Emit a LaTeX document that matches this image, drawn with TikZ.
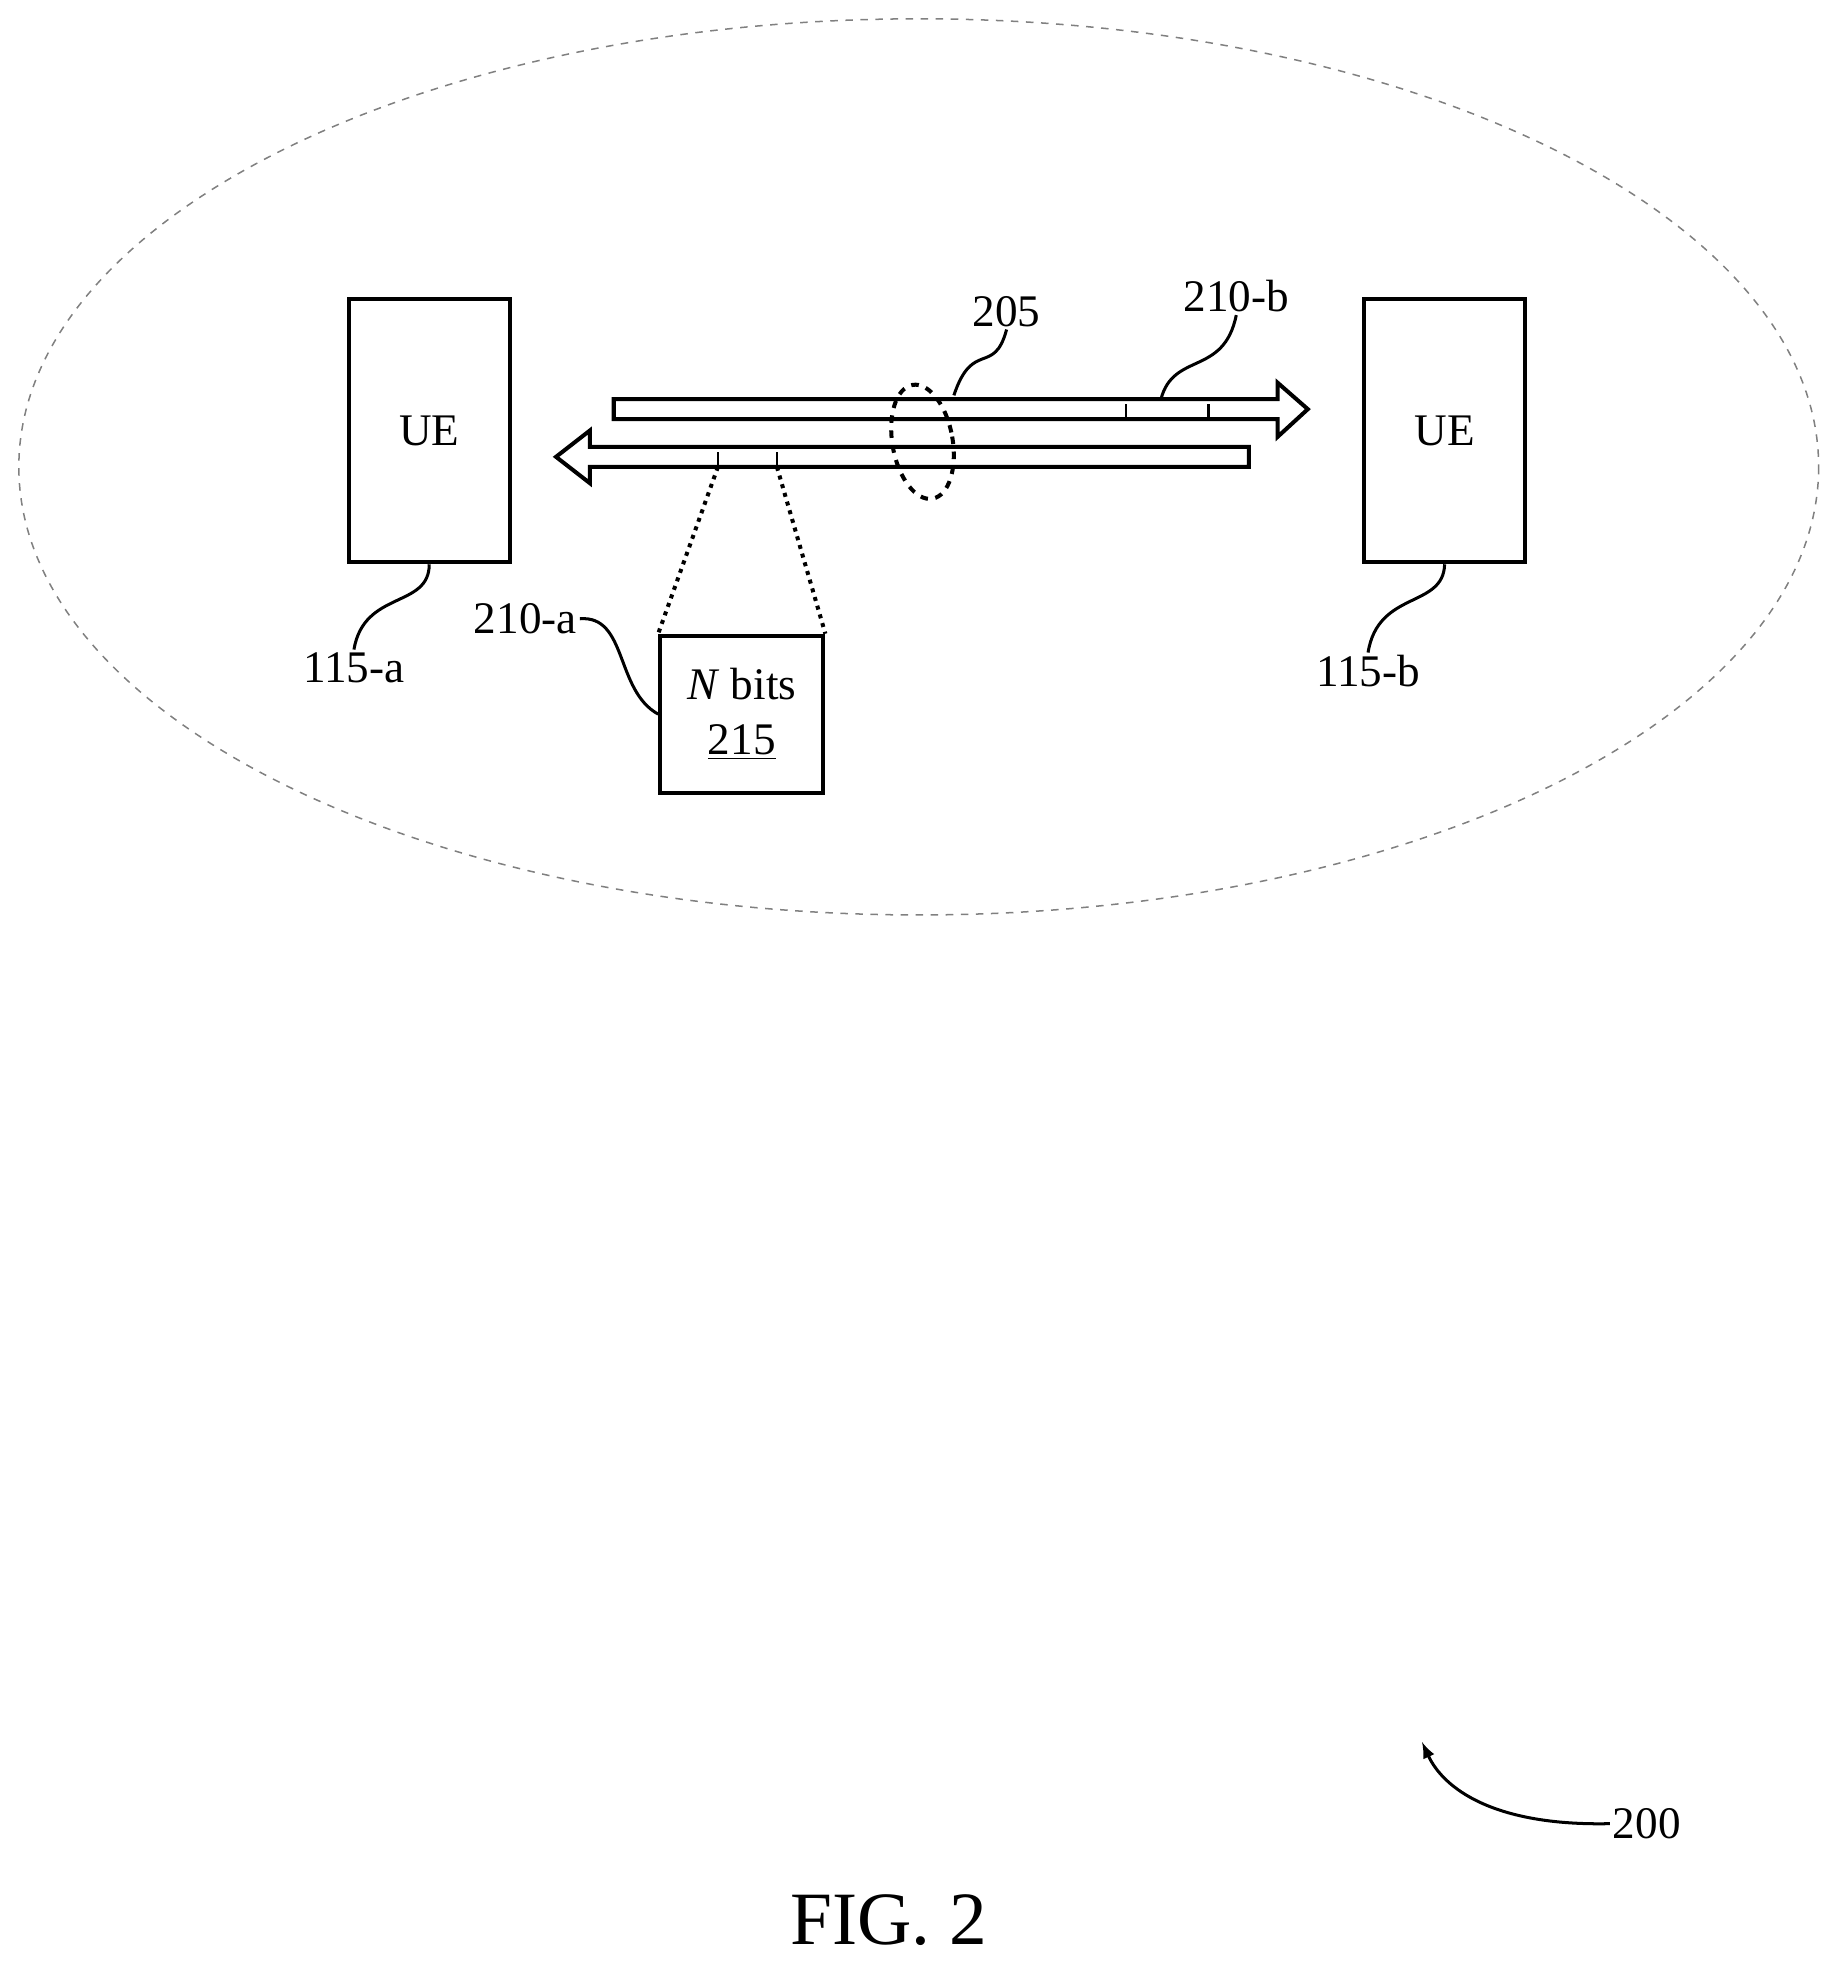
\documentclass[tikz,border=0pt]{standalone}
\usepackage{fontspec}
\setmainfont{Liberation Serif}
\usetikzlibrary{positioning,calc}
\begin{document}
\begin{tikzpicture}[x=0.5pt,y=-0.5pt,
	ue/.style={draw,line width=1.6pt,minimum width=64pt,minimum height=105pt,inner sep=0pt,font=\fontsize{18}{20}\selectfont},
	lbl/.style={inner sep=1pt,font=\fontsize{18}{20}\selectfont},
	lead/.style={line width=1.2pt}]
	\useasboundingbox (0,0) rectangle (1470,1572);
	% coverage area
	\draw[gray,dashed,line width=0.6pt] (732,372) ellipse [x radius=717,y radius=357];
	% devices
	\node[ue] (UEA) at (342,343) {UE};
	\node[ue] (UEB) at (1151,343) {UE};
	% links
	\draw[line width=1.6pt,fill=white] (489,318) -- (1018,318) -- (1018,305) -- (1042,326)
		-- (1018,348) -- (1018,334) -- (489,334) -- cycle;
	\draw[line width=1.6pt,fill=white] (995,356) -- (470,356) -- (470,343) -- (443,364)
		-- (470,385) -- (470,372) -- (995,372) -- cycle;
	\draw[line width=1pt] (897,334) -- (897,322) (963,334) -- (963,322)
		(572,372) -- (572,360) (619,372) -- (619,360);
	% zoomed field
	\node[draw,line width=1.6pt,minimum width=65pt,minimum height=62.5pt,inner sep=0pt,
		font=\fontsize{18}{20}\selectfont,align=center] (BITS) at (591,569)
		{\textit{N} bits\\[2pt]\underline{215}};
	\draw[dotted,line width=1.6pt] (572,372) -- (BITS.north west) (619,372) -- (BITS.north east);
	\draw[dashed,line width=1.6pt,rotate around={10:(735,352)}] (735,352) ellipse [x radius=24,y radius=46];
	% labels
	\node[lbl] (L205) at (802,248) {205};
	\node[lbl] (L210b) at (985,236) {210-b};
	\node[lbl,anchor=east] (L210a) at (462,493) {210-a};
	\node[lbl] (L115a) at (282,532) {115-a};
	\node[lbl] (L115b) at (1090,535) {115-b};
	\node[lbl] (L200) at (1312,1453) {200};
	\node[font=\fontsize{30}{32}\selectfont] (FIG) at (708,1530) {FIG. 2};
	\draw[lead] (760,315) .. controls (775,270) and (792,300) .. (L205.south);
	\draw[lead] (925,318) .. controls (935,280) and (975,300) .. (L210b.south);
	\draw[lead] (L210a.east) .. controls (500,490) and (490,550) .. (BITS.west);
	\draw[lead] (UEA.south) .. controls (342,485) and (290,470) .. (L115a.north);
	\draw[lead] (UEB.south) .. controls (1150,485) and (1098,470) .. (L115b.north);
	\draw[lead,-latex] (L200.west) .. controls (1190,1455) and (1150,1425) .. (1133,1388);
\end{tikzpicture}
\end{document}
